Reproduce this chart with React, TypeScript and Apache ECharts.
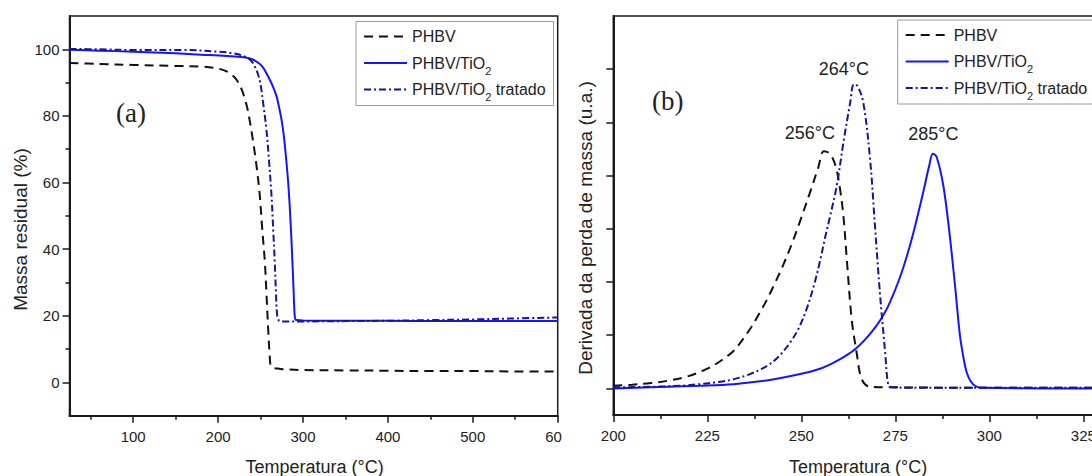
import React, { useEffect, useRef } from 'react';
import * as echarts from 'echarts';

const FONT = '"Liberation Sans", Arial, sans-serif';
const SERIF = '"Liberation Serif", "Times New Roman", serif';
const INK = '#1a1a1a';
const TEXT = '#222';

const seriesNames = ['PHBV', 'PHBV/TiO2', 'PHBV/TiO2 tratado'];
const seriesColors = ['#111111', '#1414ff', '#14149c'];

// (a) TGA — temperature (°C) and residual mass (%)
const tgaPhbvT = [25, 60, 100, 150, 180, 200, 210, 216, 222, 228, 234, 238, 241, 245, 249, 252, 255, 257, 259, 260.5, 261.7, 263, 266, 272, 280, 300, 350, 400, 450, 500, 550, 600];
const tgaPhbvM = [95.9, 95.6, 95.3, 95.0, 94.8, 94.2, 93.4, 92.4, 90.8, 87.8, 82.8, 77.5, 72.8, 65.5, 56.5, 46.0, 36.5, 26.5, 16.0, 9.0, 5.2, 4.6, 4.3, 4.1, 3.9, 3.7, 3.6, 3.5, 3.4, 3.4, 3.3, 3.3];

const tgaTio2T = [25, 60, 100, 150, 180, 210, 230, 240, 248, 253, 257, 261, 265, 269, 272, 274.5, 276.5, 278, 279.5, 281, 282.4, 283.5, 284.5, 285.5, 286.4, 287.4, 288.3, 289.2, 290, 290.6, 291.5, 293, 300, 350, 400, 450, 500, 550, 600];
const tgaTio2M = [99.9, 99.6, 99.3, 98.8, 98.4, 98.0, 97.6, 97.0, 95.8, 94.5, 92.8, 90.8, 88.6, 85.8, 82.4, 79.2, 75.9, 72.7, 68.9, 64.8, 60.5, 56.5, 52.3, 47.5, 42.8, 37.0, 31.5, 25.8, 21.0, 19.3, 18.8, 18.7, 18.6, 18.5, 18.5, 18.4, 18.4, 18.4, 18.4];

const tgaTratT = [25, 60, 100, 160, 200, 218, 230, 238, 243, 247, 250, 253, 257, 260, 263, 265, 266.8, 268.3, 269.5, 271, 273, 280, 300, 350, 400, 450, 500, 550, 600];
const tgaTratM = [100.1, 100.0, 99.8, 99.8, 99.3, 98.8, 98.0, 96.8, 95.0, 92.5, 89.5, 84.0, 75.8, 66.5, 55.8, 45.5, 35.8, 26.0, 20.3, 18.8, 18.3, 18.3, 18.3, 18.4, 18.5, 18.7, 18.9, 19.2, 19.5];

const tgaXMajor = [100, 200, 300, 400, 500, 600];
const tgaXMinor = [50, 150, 250, 350, 450, 550];
const tgaYMajor = [0, 20, 40, 60, 80, 100];
const tgaYMinor = [10, 30, 50, 70, 90];

// (b) DTG — temperature (°C) and mass-loss derivative (a.u.)
const dtgPhbvT = [200, 205, 210, 215, 219, 222, 225, 228.4, 231.9, 234, 236.4, 238.6, 240.8, 243, 245.2, 247.5, 249.7, 252.3, 254.5, 256, 257.5, 258.5, 259.4, 260.3, 261.2, 262.1, 263.4, 264.7, 266.1, 268.3, 275, 300, 325, 350];
const dtgPhbvV = [0.05, 0.07, 0.1, 0.15, 0.21, 0.28, 0.37, 0.51, 0.7, 0.88, 1.12, 1.38, 1.66, 1.98, 2.32, 2.72, 3.15, 3.68, 4.15, 4.46, 4.42, 4.3, 4.11, 3.75, 3.24, 2.43, 1.3, 0.68, 0.17, 0.03, 0.02, 0.01, 0.01, 0.01];

const dtgTio2T = [200, 210, 223, 232, 240.8, 249.7, 255, 258.5, 262, 264.7, 267.5, 270, 272, 273.6, 276.2, 278, 279.8, 282.4, 284, 285, 286, 287.8, 289.5, 290.9, 292.2, 293.2, 294, 295, 296.2, 298, 325, 350];
const dtgTio2V = [0.0, 0.02, 0.05, 0.08, 0.15, 0.27, 0.37, 0.48, 0.62, 0.76, 0.96, 1.18, 1.4, 1.62, 2.08, 2.47, 2.92, 3.68, 4.18, 4.41, 4.35, 3.8, 2.86, 1.92, 0.99, 0.55, 0.3, 0.14, 0.05, 0.01, 0.0, 0.0];

const dtgTratT = [200, 210, 218, 223, 228, 231.9, 236, 240.8, 244, 247, 249.3, 251.4, 253.3, 255, 256.4, 257.6, 259.4, 261.2, 263, 264, 265, 266.5, 268.3, 269.6, 270.9, 272.3, 273.1, 274, 285, 300, 350];
const dtgTratV = [0.02, 0.03, 0.05, 0.08, 0.12, 0.17, 0.26, 0.42, 0.6, 0.86, 1.13, 1.49, 1.92, 2.4, 2.86, 3.22, 3.8, 4.62, 5.37, 5.72, 5.68, 5.37, 4.3, 3.05, 1.8, 0.68, 0.08, 0.02, 0.01, 0.01, 0.01];

const dtgYTicks = [0, 1, 2, 3, 4, 5, 6];

// Peak temperatures printed above each DTG curve
const peakTemps = [256, 285, 264];
const peakValues = [4.46, 4.41, 5.72];

const zip = (xs: number[], ys: number[]) => xs.map((x, i) => [x, ys[i]]);

const lineStyles = [
  { color: seriesColors[0], width: 2, type: [9, 6] as any },
  { color: seriesColors[1], width: 2, type: 'solid' as any },
  { color: seriesColors[2], width: 2, type: [7, 3, 2, 3] as any },
];

const legendOption = (left: number, top: number) => ({
  orient: 'vertical',
  left,
  top,
  selectedMode: false,
  itemWidth: 43,
  itemHeight: 14,
  itemGap: 0.5,
  padding: [2, 8, 3, 7],
  borderColor: '#9a9a9a',
  borderWidth: 1,
  borderRadius: 0,
  backgroundColor: '#fff',
  // hide the marker symbol drawn on top of each legend line
  itemStyle: { opacity: 0 },
  textStyle: {
    fontFamily: FONT,
    fontSize: 16,
    lineHeight: 26,
    color: TEXT,
    rich: {
      s: { fontFamily: FONT, fontSize: 11, lineHeight: 11, padding: [15, 0, 0, 0], color: TEXT },
    },
  },
  formatter: (name: string) => name.replace('TiO2', 'TiO{s|2}'),
  data: seriesNames,
});

const tickStyle = { color: INK, width: 1.5 };
const labelStyle = { fontFamily: FONT, fontSize: 15, color: TEXT };

const titleText = (text: string, x: number, y: number, size: number, family: string, rotation = 0) => ({
  type: 'text',
  x,
  y,
  rotation,
  style: { text, fontFamily: family, fontSize: size, fill: TEXT, align: 'center', verticalAlign: 'middle' },
});

function buildTgaOption() {
  const grid = { left: 69.5, top: 16, width: 488.2, height: 399.7, outerBoundsMode: 'none', containLabel: false };
  const series = [zip(tgaPhbvT, tgaPhbvM), zip(tgaTio2T, tgaTio2M), zip(tgaTratT, tgaTratM)].map((d, i) => ({
    type: 'line',
    name: seriesNames[i],
    data: d,
    xAxisIndex: 0,
    yAxisIndex: 0,
    symbol: 'none',
    showSymbol: false,
    smooth: 0.35,
    lineStyle: lineStyles[i],
    itemStyle: { color: seriesColors[i] },
    z: i === 1 ? 2 : 3,
  }));
  return {
    animation: false,
    backgroundColor: '#fff',
    grid: [
      { ...grid, show: true, borderColor: INK, borderWidth: 1.5, backgroundColor: 'transparent' },
      { ...grid, show: false },
    ],
    xAxis: [
      {
        type: 'value', gridIndex: 0, min: 25, max: 600,
        axisLine: { show: true, onZero: false, lineStyle: { color: INK, width: 2 } },
        axisTick: { show: true, customValues: tgaXMajor, length: 7, lineStyle: tickStyle },
        axisLabel: { show: true, customValues: tgaXMajor, margin: 13, ...labelStyle },
        splitLine: { show: false },
      },
      {
        type: 'value', gridIndex: 1, min: 25, max: 600,
        axisLine: { show: false, onZero: false },
        axisTick: { show: true, customValues: tgaXMinor, length: 4, lineStyle: tickStyle },
        axisLabel: { show: false },
        splitLine: { show: false },
      },
    ],
    yAxis: [
      {
        type: 'value', gridIndex: 0, min: -10, max: 110,
        axisLine: { show: true, onZero: false, lineStyle: { color: INK, width: 2 } },
        axisTick: { show: true, customValues: tgaYMajor, length: 7, lineStyle: tickStyle },
        axisLabel: { show: true, customValues: tgaYMajor, margin: 10, ...labelStyle },
        splitLine: { show: false },
      },
      {
        type: 'value', gridIndex: 1, min: -10, max: 110,
        axisLine: { show: false, onZero: false },
        axisTick: { show: true, customValues: tgaYMinor, length: 4, lineStyle: tickStyle },
        axisLabel: { show: false },
        splitLine: { show: false },
      },
    ],
    legend: legendOption(356, 21.5),
    graphic: [
      titleText('Massa residual (%)', 20, 229.5, 19, FONT, Math.PI / 2),
      titleText('Temperatura (°C)', 314.5, 466.5, 18, FONT),
      titleText('(a)', 131, 113, 27, SERIF),
    ],
    series,
  };
}

function buildDtgOption() {
  const peakLabel = [
    { distance: 9, offset: [-14, 0] },
    { distance: 11, offset: [0.5, 0] },
    { distance: 6.5, offset: [-10, 0] },
  ];
  const data = [zip(dtgPhbvT, dtgPhbvV), zip(dtgTio2T, dtgTio2V), zip(dtgTratT, dtgTratV)];
  const series = data.map((d, i) => ({
    type: 'line',
    name: seriesNames[i],
    data: d,
    symbol: 'none',
    showSymbol: false,
    smooth: 0.35,
    lineStyle: lineStyles[i],
    itemStyle: { color: seriesColors[i] },
    markPoint: {
      silent: true,
      symbol: 'circle',
      symbolSize: 0,
      data: [{ coord: [peakTemps[i], peakValues[i]], value: peakTemps[i] }],
      label: {
        show: true,
        position: 'top',
        distance: peakLabel[i].distance,
        offset: peakLabel[i].offset,
        formatter: (p: any) => `${p.value}°C`,
        fontFamily: FONT,
        fontSize: 18,
        color: TEXT,
      },
    },
  }));
  return {
    animation: false,
    backgroundColor: '#fff',
    grid: {
      left: 51.3, top: 16, width: 564, height: 399,
      outerBoundsMode: 'none', containLabel: false,
      show: true, borderColor: INK, borderWidth: 1.5, backgroundColor: 'transparent',
    },
    xAxis: {
      type: 'value', min: 200, max: 350, interval: 25,
      axisLine: { show: true, onZero: false, lineStyle: { color: INK, width: 2 } },
      axisTick: { show: true, length: 7, lineStyle: tickStyle },
      minorTick: { show: true, splitNumber: 2, length: 4, lineStyle: tickStyle },
      axisLabel: { show: true, margin: 13, ...labelStyle },
      splitLine: { show: false },
    },
    yAxis: {
      type: 'value', min: -0.5, max: 7,
      axisLine: { show: true, onZero: false, lineStyle: { color: INK, width: 2 } },
      axisTick: { show: true, customValues: dtgYTicks, length: 7, lineStyle: tickStyle },
      axisLabel: { show: false },
      splitLine: { show: false },
    },
    legend: legendOption(335.7, 20),
    graphic: [
      titleText('Derivada da perda de massa (u.a.)', 23, 228, 19, FONT, Math.PI / 2),
      titleText('Temperatura (°C)', 296, 466.5, 18, FONT),
      titleText('(b)', 105.7, 101, 27, SERIF),
    ],
    series,
  };
}

function ChartPanel({ left, width, build }: { left: number; width: number; build: () => any }) {
  const ref = useRef<HTMLDivElement>(null);
  useEffect(() => {
    if (!ref.current) return;
    const chart = echarts.init(ref.current, null, { renderer: 'svg' });
    chart.setOption(build());
    return () => chart.dispose();
  }, [build]);
  return (
    <div
      ref={ref}
      style={{ position: 'absolute', left, top: 0, width, height: 476, overflow: 'hidden' }}
    />
  );
}

export default function App() {
  return (
    <div style={{ position: 'absolute', left: 0, top: 0, width: 1092, height: 476, overflow: 'hidden', background: '#fff' }}>
      <ChartPanel left={0} width={562} build={buildTgaOption} />
      <ChartPanel left={562} width={530} build={buildDtgOption} />
    </div>
  );
}
